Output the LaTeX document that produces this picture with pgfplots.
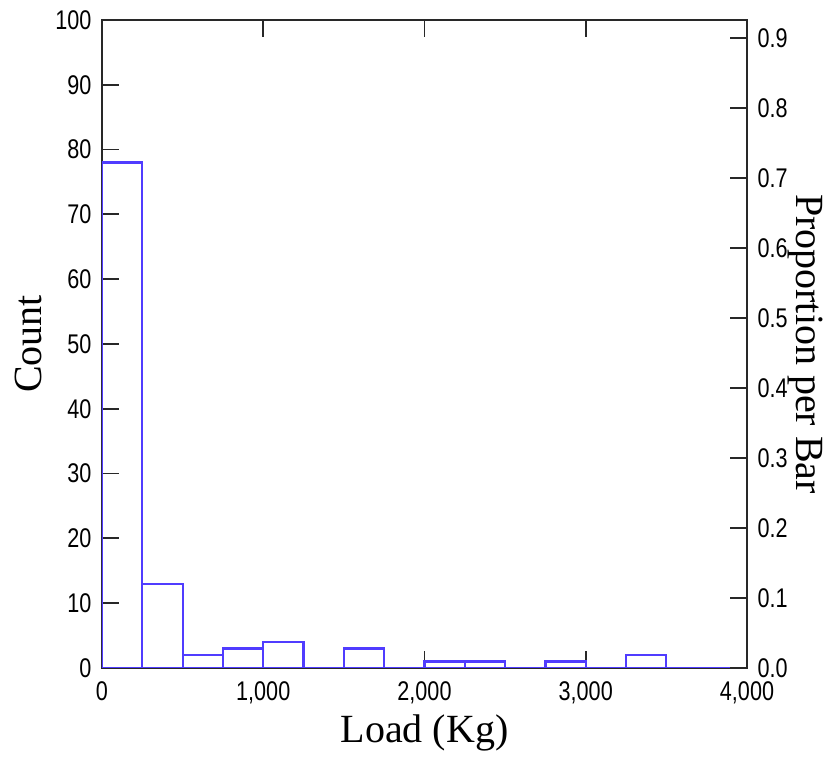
\documentclass[border=0pt]{standalone}
\usepackage{fontspec}
\usepackage{pgfplots}
\pgfplotsset{compat=1.18}
\setmainfont{Liberation Serif}
\newfontfamily\tickfont[FakeStretch=0.8]{Liberation Sans}
\definecolor{barblue}{RGB}{80,60,255}
\definecolor{axgray}{RGB}{40,40,40}
\begin{document}
\begin{tikzpicture}[x=1pt,y=1pt]
\path (-102,-89) rectangle (730,668);
\pgfplotsset{
  common/.style={
    scale only axis, width=645pt, height=648pt,
    at={(0,0)}, anchor=south west,
    xmin=0, xmax=4000,
    axis line style={axgray, line width=1.8pt},
    tick style={axgray, line width=1.8pt},
    major tick length=17pt,
    tick align=inside,
    tick label style={font=\fontsize{27}{29}\selectfont\tickfont},
    /pgf/number format/assume math mode=true,
  }
}
\begin{axis}[common,
  ymin=0, ymax=100,
  ytick={0,10,...,100},
  xtick={0,1000,2000,3000,4000},
  xtick pos=both, ytick pos=left,
  xticklabel pos=lower,
  yticklabel style={xshift=-7pt},
  xticklabel style={yshift=-10pt, /pgf/number format/1000 sep={,}},
  xlabel={Load (Kg)}, ylabel={Count},
  label style={font=\fontsize{40}{42}\selectfont},
  xlabel style={at={(axis description cs:0.5,-0.1003)}, anchor=center},
  ylabel style={at={(axis description cs:-0.1147,0.5)}, anchor=center, rotate=0},
]
\addplot[ybar interval, draw=barblue, fill=none, line width=2.2pt] coordinates {
(0,78) (250,13) (500,2) (750,3) (1000,4) (1250,0) (1500,3) (1750,0)
(2000,1) (2250,1) (2500,0) (2750,1) (3000,0) (3250,2) (3500,0) (3750,0) (4000,0)};
\end{axis}
\begin{axis}[common,
  ymin=0, ymax=0.925926,
  axis x line=none,
  axis y line*=right,
  ytick={0,0.1,...,0.9},
  ytick pos=right,
  yticklabel style={xshift=7pt, /pgf/number format/.cd, fixed, fixed zerofill, precision=1},
  ylabel={Proportion per Bar},
  ylabel style={font=\fontsize{40}{42}\selectfont, at={(axis description cs:1.0899,0.5)}, anchor=center, rotate=180},
]
\addplot[draw=none] coordinates {(0,0)};
\end{axis}
\end{tikzpicture}
\end{document}
